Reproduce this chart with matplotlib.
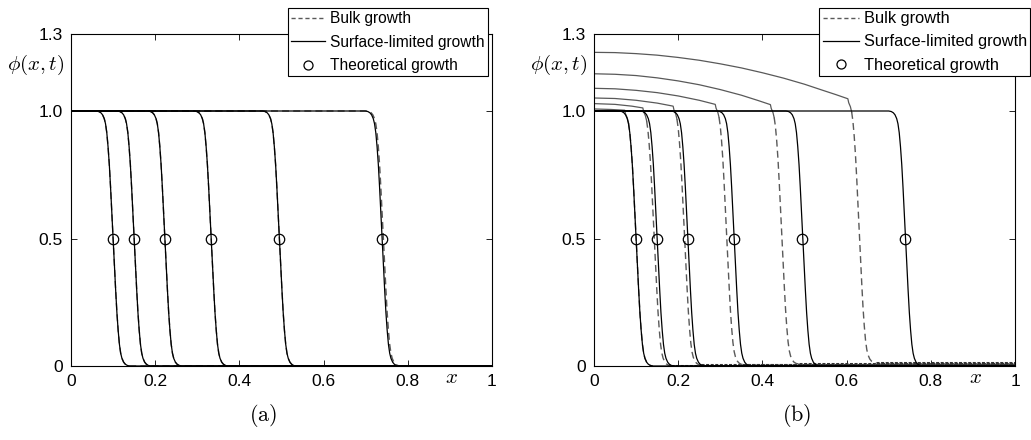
import numpy as np
import matplotlib
matplotlib.use('Agg')
import matplotlib.pyplot as plt
from matplotlib.lines import Line2D

plt.rcParams['font.family'] = ['Liberation Sans', 'DejaVu Sans']
plt.rcParams['mathtext.fontset'] = 'cm'

# --- Data ---
# half-height positions of the fronts (circles = theoretical growth)
theory_x = [0.100, 0.150, 0.223, 0.333, 0.495, 0.739]
theory_y = [0.5, 0.5, 0.5, 0.5, 0.5, 0.5]

# (a) both models nearly on top of each other
left_surface_fronts = [0.100, 0.150, 0.223, 0.333, 0.495, 0.739]
left_bulk_fronts = [0.100, 0.150, 0.223, 0.333, 0.495, 0.742]

# (b)
right_surface_fronts = [0.100, 0.150, 0.223, 0.333, 0.496, 0.740]
right_bulk_fronts = [0.100, 0.143, 0.215, 0.315, 0.446, 0.630]
right_bulk_tail = [0.000, 0.001, 0.003, 0.005, 0.008, 0.012]

# plateau above 1 ahead of each bulk-growth front in (b)
bulk_top_x = [
    [0.0, 0.04, 0.073],
    [0.0, 0.05, 0.09, 0.116],
    [0.0, 0.05, 0.10, 0.15, 0.188],
    [0.0, 0.05, 0.10, 0.15, 0.20, 0.25, 0.288],
    [0.0, 0.05, 0.10, 0.15, 0.20, 0.25, 0.30, 0.35, 0.39, 0.419],
    [0.0, 0.05, 0.10, 0.15, 0.20, 0.25, 0.30, 0.35, 0.40, 0.45, 0.50,
     0.54, 0.575, 0.603],
]
bulk_top_phi = [
    [1.008, 1.006, 1.003],
    [1.029, 1.026, 1.019, 1.012],
    [1.051, 1.049, 1.042, 1.031, 1.019],
    [1.089, 1.087, 1.081, 1.072, 1.059, 1.042, 1.026],
    [1.146, 1.144, 1.139, 1.130, 1.118, 1.103, 1.084, 1.062, 1.041, 1.025],
    [1.230, 1.229, 1.225, 1.219, 1.210, 1.199, 1.185, 1.169, 1.150, 1.129,
     1.105, 1.083, 1.064, 1.048],
]

# shape of one front: offset from the half-height point vs phi
front_dx = np.array([-0.040, -0.034, -0.029, -0.025, -0.021, -0.018, -0.015, -0.012,
                     -0.009, -0.006, -0.003, 0.000, 0.003, 0.006, 0.009, 0.012,
                     0.015, 0.018, 0.021, 0.025, 0.029, 0.034, 0.040])
front_phi = np.array([1.000, 0.998, 0.993, 0.985, 0.970, 0.950, 0.915, 0.860,
                      0.790, 0.700, 0.600, 0.500, 0.400, 0.300, 0.210, 0.140,
                      0.085, 0.050, 0.030, 0.015, 0.007, 0.002, 0.000])

DASH_COLOR = '0.35'
DASH = (0, (5, 3))
yticks = [0, 0.5, 1.0, 1.3]
ytick_labels = ['0', '0.5', '1.0', '1.3']
xticks = [0, 0.2, 0.4, 0.6, 0.8, 1]
xtick_labels = ['0', '0.2', '0.4', '0.6', '0.8', '1']

# --- Figure setup ---
fig = plt.figure(figsize=(10.31, 4.40), dpi=100)
ax_a = fig.add_axes([71 / 1031, 74 / 440, 421 / 1031, 331.5 / 440])
ax_b = fig.add_axes([594 / 1031, 74 / 440, 421 / 1031, 331.5 / 440])


def simple_front(pos):
    xs = np.concatenate([[0.0], pos + front_dx, [1.0]])
    ys = np.concatenate([[1.0], front_phi, [0.0]])
    return xs, ys


def style_axes(ax, caption, cap_x, xlab_x):
    ax.set_xlim(0, 1)
    ax.set_ylim(0, 1.3)
    ax.set_xticks(xticks)
    ax.set_xticklabels(xtick_labels)
    ax.set_yticks(yticks)
    ax.set_yticklabels(ytick_labels)
    ax.tick_params(direction='in', length=4, width=0.6, top=True, right=True,
                   labelsize=12.5, pad=6)
    for s in ax.spines.values():
        s.set_linewidth(0.8)
    ax.text(-0.085, 0.908, r'$\phi(x,t)$', transform=ax.transAxes,
            ha='center', va='center', fontsize=15)
    ax.text(xlab_x, -0.036, r'$x$', transform=ax.transAxes,
            ha='center', va='center', fontsize=15)
    ax.text(cap_x, -0.15, caption, transform=ax.transAxes,
            ha='center', va='center', fontsize=16)


# --- (a) ---
for pos in left_bulk_fronts:
    xs, ys = simple_front(pos)
    ax_a.plot(xs, ys, color=DASH_COLOR, lw=1.0, ls=DASH)
for pos in left_surface_fronts:
    xs, ys = simple_front(pos)
    ax_a.plot(xs, ys, color='black', lw=0.9)
ax_a.plot(theory_x, theory_y, 'o', mfc='none', mec='black', ms=7.5, mew=0.9)

# --- (b) ---
# bulk curves: plateau drawn as a thin solid line, front dashed, tail as a dense band
for i, pos in enumerate(right_bulk_fronts):
    tx = np.array(bulk_top_x[i])
    tp = np.array(bulk_top_phi[i])
    tail = right_bulk_tail[i]
    keep = front_dx >= -0.025
    fx = pos + front_dx[keep]
    fy = tail + (tp[-1] - tail) * front_phi[keep]
    ax_b.plot(np.append(tx, fx[:3]), np.append(tp, fy[:3]), color=DASH_COLOR, lw=0.9)
    ax_b.plot(fx[2:], fy[2:], color=DASH_COLOR, lw=1.0, ls=DASH)
    if tail > 0:
        ax_b.plot([fx[-1], 1.0], [tail, tail], color='0.2', lw=2.2, ls=(0, (1, 0.5)))
for pos in right_surface_fronts:
    xs, ys = simple_front(pos)
    ax_b.plot(xs, ys, color='black', lw=0.9)
ax_b.plot(theory_x, theory_y, 'o', mfc='none', mec='black', ms=7.5, mew=0.9)

style_axes(ax_a, r'$\mathrm{(a)}$', 0.456, 0.904)
style_axes(ax_b, r'$\mathrm{(b)}$', 0.481, 0.905)

# --- Legends ---
handles = [
    Line2D([], [], color=DASH_COLOR, lw=1.0, ls=(0, (3, 2))),
    Line2D([], [], color='black', lw=0.9),
    Line2D([], [], ls='none', marker='o', mfc='none', mec='black', ms=6.5, mew=0.9),
]
labels = ['Bulk growth', 'Surface-limited growth', 'Theoretical growth']
for ax, anchor, fs, sp in [(ax_a, (0.990, 1.080), 11.2, 0.55),
                           (ax_b, (1.036, 1.080), 11.8, 0.5)]:
    leg = ax.legend(handles, labels, loc='upper right', bbox_to_anchor=anchor,
                    fontsize=fs, frameon=True, fancybox=False, framealpha=1,
                    edgecolor='black', borderaxespad=0, borderpad=0.2,
                    labelspacing=sp, handlelength=2.2, handletextpad=0.3)
    leg.get_frame().set_linewidth(0.8)

fig.savefig('out.png', dpi=100)
